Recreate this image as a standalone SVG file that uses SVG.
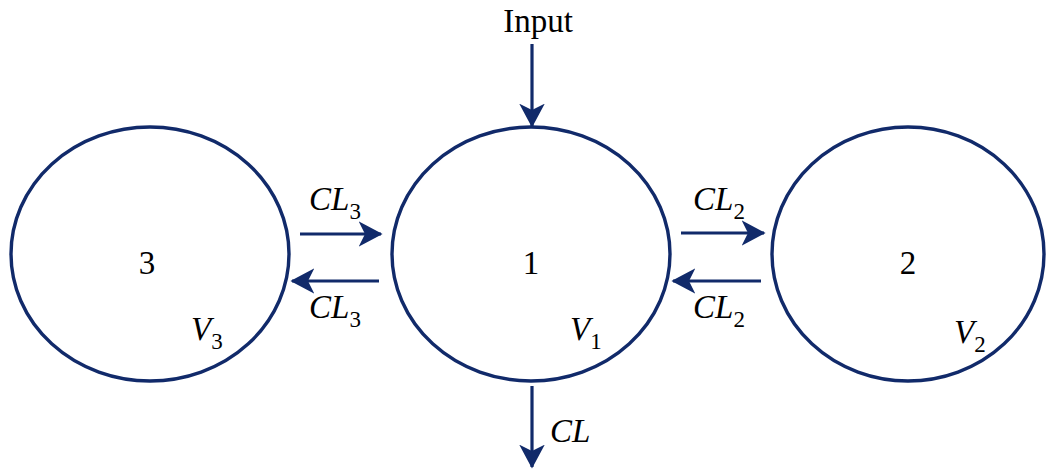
<svg xmlns="http://www.w3.org/2000/svg" width="1046" height="471" viewBox="0 0 1046 471">
<style>
.node{fill:none;stroke:#112a6a;stroke-width:3.4}
.edge{stroke:#112a6a;stroke-width:3.2;fill:none;marker-end:url(#ah)}
text{font-family:"Liberation Serif","Times New Roman",Times,serif;font-size:33px;fill:#000}
.it{font-style:italic}
.sub{font-size:23px;font-style:normal}
</style>
<defs>
<marker id="ah" markerWidth="8" markerHeight="8" refX="7" refY="4" orient="auto" markerUnits="strokeWidth">
<path d="M0,0 L7.5,4 L0,8 L2,4 Z" fill="#112a6a"/>
</marker>
</defs>
<rect width="1046" height="471" fill="#fff"/>
<g id="node3">
<ellipse class="node" cx="150" cy="254" rx="139" ry="127"/>
<text x="147" y="274" text-anchor="middle">3</text>
<text x="191" y="340" class="it">V<tspan class="sub" dy="9">3</tspan></text>
</g>
<g id="node1">
<ellipse class="node" cx="531" cy="254" rx="139" ry="127"/>
<text x="531" y="274" text-anchor="middle">1</text>
<text x="570" y="340" class="it">V<tspan class="sub" dy="9">1</tspan></text>
</g>
<g id="node2">
<ellipse class="node" cx="908" cy="254" rx="136" ry="127"/>
<text x="908" y="274" text-anchor="middle">2</text>
<text x="954" y="343" class="it">V<tspan class="sub" dy="9">2</tspan></text>
</g>
<g id="connectors">
<line class="edge" x1="300" y1="234" x2="381" y2="234"/>
<line class="edge" x1="379" y1="281" x2="292" y2="281"/>
<line class="edge" x1="681" y1="233" x2="764" y2="233"/>
<line class="edge" x1="761" y1="281" x2="673" y2="281"/>
<line class="edge" x1="532" y1="44" x2="532" y2="126"/>
<line class="edge" x1="532" y1="386" x2="532" y2="467"/>
</g>
<g id="labels">
<text x="538" y="32" text-anchor="middle">Input</text>
<text x="309" y="210" class="it">CL<tspan class="sub" dy="9">3</tspan></text>
<text x="309" y="318" class="it">CL<tspan class="sub" dy="9">3</tspan></text>
<text x="693" y="210" class="it">CL<tspan class="sub" dy="9">2</tspan></text>
<text x="693" y="318" class="it">CL<tspan class="sub" dy="9">2</tspan></text>
<text x="550" y="442" class="it">CL</text>
</g>
</svg>
